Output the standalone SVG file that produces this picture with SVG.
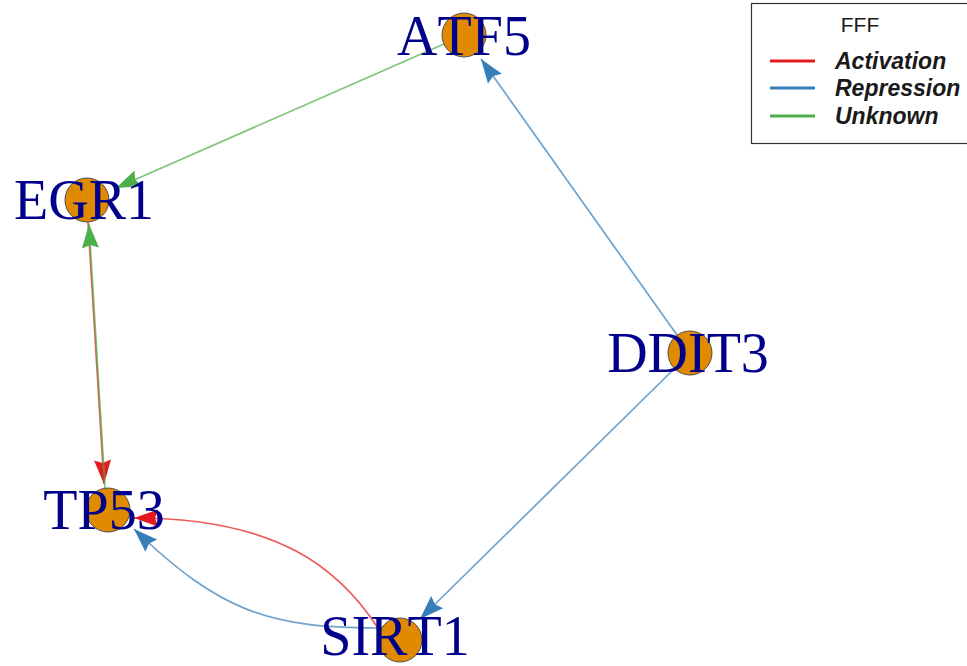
<svg xmlns="http://www.w3.org/2000/svg" width="967" height="666" viewBox="0 0 967 666">
<defs>
<style>
.edge{fill:none;stroke-width:1.7;stroke-opacity:0.72}
.act{stroke:#E41A1C}
.rep{stroke:#377EB8}
.unk{stroke:#4DAF4A}
.node circle{fill:#E08A00;stroke:#4d4d4d;stroke-width:1}
.node text{font-family:"Liberation Serif","Times New Roman",serif;font-size:56px;fill:#00008B;text-anchor:middle;font-kerning:none}
.leg{font-family:"Liberation Sans",Arial,sans-serif;fill:#1a1a1a}
.legl{font-size:23px;font-weight:bold;font-style:italic}
</style>
<marker id="aR" viewBox="-30 -15 32 30" markerWidth="32" markerHeight="30" refX="0" refY="0" orient="auto" markerUnits="userSpaceOnUse"><path d="M0,0 L-24,-8.5 L-21,0 L-24,8.5 Z" fill="#E41A1C"/></marker>
<marker id="aB" viewBox="-30 -15 32 30" markerWidth="32" markerHeight="30" refX="0" refY="0" orient="auto" markerUnits="userSpaceOnUse"><path d="M0,0 L-24,-8.5 L-21,0 L-24,8.5 Z" fill="#377EB8"/></marker>
<marker id="aG" viewBox="-30 -15 32 30" markerWidth="32" markerHeight="30" refX="0" refY="0" orient="auto" markerUnits="userSpaceOnUse"><path d="M0,0 L-24,-8.5 L-21,0 L-24,8.5 Z" fill="#4DAF4A"/></marker>
</defs>
<rect width="967" height="666" fill="#ffffff"/>
<g id="connectors">
<path class="edge unk" d="M444,44 L116,188" marker-end="url(#aG)"/>
<path class="edge rep" d="M677,335 L481,59" marker-end="url(#aB)"/>
<path class="edge rep" d="M674,369 L420,619" marker-end="url(#aB)"/>
<path class="edge act" d="M88,222 L104,484" marker-end="url(#aR)"/>
<path class="edge unk" d="M105,488 L89,224" marker-end="url(#aG)"/>
<path class="edge act" d="M378,628 C340,570 280,518 134,518" marker-end="url(#aR)"/>
<path class="edge rep" d="M378,628 C270,628 220,612 134,529" marker-end="url(#aB)"/>
</g>
<g id="node-ATF5" class="node"><circle cx="464" cy="35" r="22"/><text x="464" y="55">ATF5</text></g>
<g id="node-EGR1" class="node"><circle cx="87" cy="200" r="22"/><text x="84" y="218.5">EGR1</text></g>
<g id="node-TP53" class="node"><circle cx="108" cy="510" r="22"/><text x="104" y="529">TP53</text></g>
<g id="node-SIRT1" class="node"><circle cx="400" cy="640" r="22"/><text x="395" y="655">SIRT1</text></g>
<g id="node-DDIT3" class="node"><circle cx="690" cy="353" r="22"/><text x="688" y="372">DDIT3</text></g>
<g id="legend">
<rect x="751.5" y="3.5" width="230" height="140" fill="#ffffff" stroke="#333333" stroke-width="1.2"/>
<text class="leg" x="860" y="32" font-size="21" text-anchor="middle">FFF</text>
<line x1="770" y1="61" x2="815" y2="61" stroke="#E41A1C" stroke-width="3"/>
<line x1="770" y1="88" x2="815" y2="88" stroke="#377EB8" stroke-width="3"/>
<line x1="770" y1="116" x2="815" y2="116" stroke="#4DAF4A" stroke-width="3"/>
<text class="leg legl" x="835" y="69">Activation</text>
<text class="leg legl" x="835" y="96">Repression</text>
<text class="leg legl" x="835" y="124">Unknown</text>
</g>
</svg>
